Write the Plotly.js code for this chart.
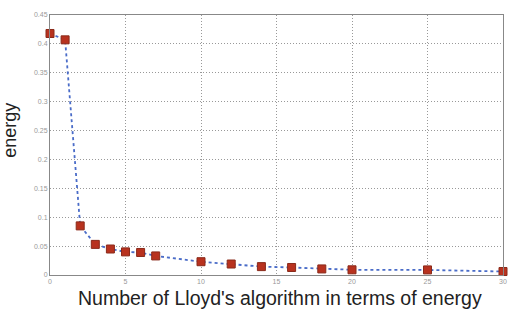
<!DOCTYPE html>
<html>
<head>
<meta charset="utf-8">
<script src="https://cdn.plot.ly/plotly-3.0.1.min.js"></script>
<style>html,body{margin:0;padding:0;background:#fff;}#chart{width:508px;height:314px;}</style>
</head>
<body>
<div id="chart"></div>
<script>
var iterations = [0, 1, 2, 3, 4, 5, 6, 7, 10, 12, 14, 16, 18, 20, 25, 30];
var energy = [0.418, 0.407, 0.085, 0.053, 0.045, 0.040, 0.039, 0.033, 0.023, 0.019, 0.0145, 0.013, 0.0105, 0.009, 0.0088, 0.006];
var xTicks = [0, 5, 10, 15, 20, 25, 30];
var yTicks = [0, 0.05, 0.1, 0.15, 0.2, 0.25, 0.3, 0.35, 0.4, 0.45];
var yTickText = ['0', '0.05', '0.1', '0.15', '0.2', '0.25', '0.3', '0.35', '0.4', '0.45'];
var xTitle = "Number of Lloyd's algorithm in terms of energy";
var yTitle = 'energy';

var trace = {
  x: iterations,
  y: energy,
  mode: 'lines+markers',
  line: {color: '#4a6cc8', width: 1.8, dash: 'dot'},
  marker: {symbol: 'square', size: 8, color: '#b8321f', line: {color: '#8a2a1a', width: 1}},
  cliponaxis: false,
  showlegend: false
};

var axisCommon = {
  tickfont: {size: 7, color: '#999999'},
  showgrid: true,
  gridcolor: '#999999',
  griddash: '1px,2px',
  gridwidth: 1,
  zeroline: false,
  showline: true,
  linecolor: '#888888',
  linewidth: 1,
  mirror: true,
  ticks: '',
  ticklabeloverflow: 'allow'
};

var layout = {
  width: 508,
  height: 314,
  margin: {l: 50, r: 5, t: 15, b: 39},
  paper_bgcolor: '#ffffff',
  plot_bgcolor: '#ffffff',
  font: {family: 'Arial, Liberation Sans, sans-serif'},
  xaxis: Object.assign({range: [0, 30], tickvals: xTicks, ticktext: xTicks.map(String)}, axisCommon),
  yaxis: Object.assign({range: [0, 0.45], tickvals: yTicks, ticktext: yTickText}, axisCommon),
  annotations: [
    {text: xTitle, xref: 'paper', yref: 'paper', x: 0.508, y: -0.088, xanchor: 'center', yanchor: 'middle',
     showarrow: false, font: {size: 19.5, color: '#222222'}},
    {text: yTitle, xref: 'paper', yref: 'paper', x: -0.088, y: 0.555, xanchor: 'center', yanchor: 'middle',
     textangle: -90, showarrow: false, font: {size: 18, color: '#222222'}}
  ]
};

Plotly.newPlot('chart', [trace], layout, {displayModeBar: false, staticPlot: true});
</script>
</body>
</html>
